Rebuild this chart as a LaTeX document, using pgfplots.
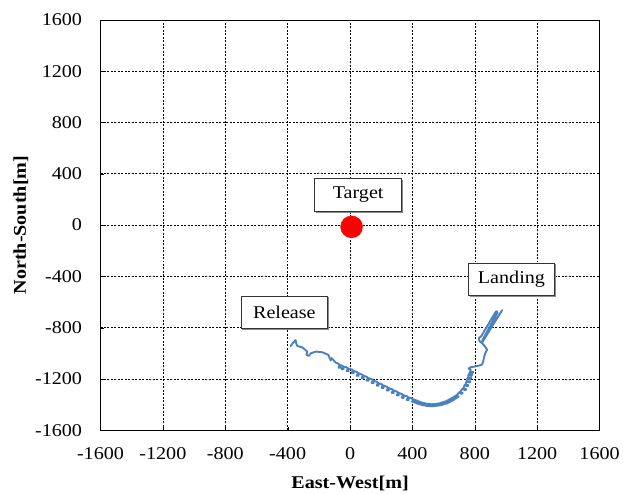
\documentclass[border=0pt]{standalone}
\usepackage{fontspec}
\setmainfont{Liberation Serif}[FakeStretch=1.12]
\usepackage{pgfplots}
\pgfplotsset{compat=1.18}
\usetikzlibrary{shadows}
\definecolor{trajblue}{RGB}{76,128,190}
\begin{document}
\begin{tikzpicture}[font=\fontsize{18bp}{21bp}\selectfont]
\begin{axis}[
  scale only axis,
  width=500bp, height=411bp,
  xmin=-1600, xmax=1600, ymin=-1600, ymax=1600,
  xtick={-1600,-1200,-800,-400,0,400,800,1200,1600},
  ytick={-1600,-1200,-800,-400,0,400,800,1200,1600},
  xticklabels={-1600,-1200,-800,-400,0,400,800,1200,1600},
  yticklabels={-1600,-1200,-800,-400,0,400,800,1200,1600},
  every tick label/.append style={font=\fontsize{18bp}{21bp}\selectfont},
  label style={font=\fontsize{18bp}{21bp}\selectfont\bfseries},
  xlabel={East-West[m]},
  ylabel={North-South[m]},
  xlabel style={yshift=-9bp},
  ylabel style={yshift=0bp},
  grid=major,
  major grid style={black, line width=0.6bp, dash pattern=on 2bp off 1.5bp},
  axis line style={black, line width=0.8bp},
  tick align=inside,
  major tick length=3bp,
  xtick pos=lower, ytick pos=left,
  tick style={black},
  xticklabel style={yshift=-14bp},
  yticklabel style={xshift=-15bp},
  clip=false,
]
\addplot[trajblue, line width=1.9bp, line join=round, line cap=round] coordinates {
(-381,-944) (-366,-918) (-349,-897) (-345,-923) (-338,-944) (-306,-954) (-274,-987) (-280,-1013) (-263,-1020) (-252,-1000) (-220,-987) (-178,-992) (-139,-1013) (-124,-1056) (-118,-1038) (-92,-1072)
(-70,-1085) (-62,-1113) (-74,-1112) (-67,-1091)
(-49,-1097) (-41,-1125) (-53,-1124) (-46,-1103)
(-17,-1112) (-9,-1140) (-21,-1139) (-14,-1118)
(15,-1128) (23,-1156) (11,-1155) (18,-1134)
(47,-1148) (55,-1176) (43,-1175) (50,-1154)
(79,-1167) (87,-1195) (75,-1194) (82,-1173)
(111,-1186) (119,-1214) (107,-1213) (114,-1192)
(143,-1205) (151,-1233) (139,-1232) (146,-1211)
(175,-1225) (183,-1253) (171,-1252) (178,-1231)
(207,-1244) (215,-1272) (203,-1271) (210,-1250)
(240,-1263) (248,-1291) (236,-1290) (243,-1269)
(272,-1282) (280,-1310) (268,-1309) (275,-1288)
(304,-1301) (312,-1329) (300,-1328) (307,-1307)
(336,-1320) (344,-1348) (332,-1347) (339,-1326)
(368,-1337) (376,-1365) (364,-1364) (371,-1343)
(400,-1354) (406,-1380) (398,-1378) (403,-1360)
(416,-1362) (422,-1386) (412,-1384) (419,-1366)
(432,-1370) (438,-1394) (428,-1392) (435,-1374)
(448,-1378) (454,-1400) (444,-1398) (451,-1382)
(464,-1385) (470,-1405) (460,-1404) (467,-1388)
(478,-1389) (484,-1408) (474,-1407) (481,-1392)
(491,-1392) (497,-1410) (487,-1410) (494,-1395)
(505,-1395) (511,-1412) (501,-1412) (508,-1397)
(518,-1397) (524,-1413) (514,-1413) (521,-1399)
(532,-1396) (538,-1412) (528,-1412) (535,-1398)
(545,-1395) (551,-1411) (541,-1411) (548,-1397)
(558,-1393) (564,-1409) (554,-1409) (561,-1395)
(571,-1390) (578,-1406) (568,-1407) (574,-1392)
(585,-1385) (592,-1402) (582,-1403) (588,-1388)
(598,-1380) (606,-1396) (596,-1398) (601,-1383)
(612,-1374) (622,-1392) (612,-1393) (616,-1377)
(625,-1367) (636,-1385) (626,-1387) (629,-1370)
(638,-1358) (652,-1374) (642,-1378) (642,-1362)
(652,-1348) (668,-1362) (658,-1367) (656,-1351)
(665,-1338) (682,-1350) (673,-1356) (669,-1341)
(678,-1328) (697,-1338) (688,-1345) (682,-1331)
(700,-1303) (722,-1310) (714,-1318) (704,-1306)
(721,-1277) (745,-1280) (740,-1289) (725,-1280)
(734,-1248) (758,-1249) (754,-1258) (738,-1251)
(747,-1218) (771,-1218) (767,-1228) (751,-1221)
(753,-1192) (777,-1192) (773,-1202) (757,-1195)
(759,-1167) (783,-1166) (779,-1176) (763,-1170)
(767,-1148) (789,-1145) (786,-1155) (770,-1151)
(774,-1128) (760,-1120) (770,-1110) (794,-1105) (830,-1095) (847,-1087) (855,-1060) (858,-1036) (868,-997) (879,-972) (870,-955) (850,-925) (830,-905) (826,-880) (840,-870) (932,-680) (940,-672) (945,-685) (850,-895) (845,-920) (855,-900) (975,-664)
};
\addplot[only marks, mark=*, mark size=11bp, red, mark options={draw=red, fill=red}] coordinates {(10,-14)};
\node[draw=black!80, line width=0.8bp, fill=white, minimum width=87bp, minimum height=33bp, inner sep=1bp, drop shadow={shadow xshift=1.5bp, shadow yshift=-1.5bp, fill=black!45, opacity=1}] at (axis cs:52,235) {Target};
\node[draw=black!80, line width=0.8bp, fill=white, minimum width=87bp, minimum height=33bp, inner sep=1bp, drop shadow={shadow xshift=1.5bp, shadow yshift=-1.5bp, fill=black!45, opacity=1}] at (axis cs:-421,-681) {Release};
\node[draw=black!80, line width=0.8bp, fill=white, minimum width=87bp, minimum height=33bp, inner sep=1bp, drop shadow={shadow xshift=1.5bp, shadow yshift=-1.5bp, fill=black!45, opacity=1}] at (axis cs:1035,-424) {Landing};
\end{axis}
\path ([xshift=-100.7bp, yshift=-62bp]current axis.south west) rectangle ([xshift=22bp, yshift=20bp]current axis.north east);
\end{tikzpicture}
\end{document}
